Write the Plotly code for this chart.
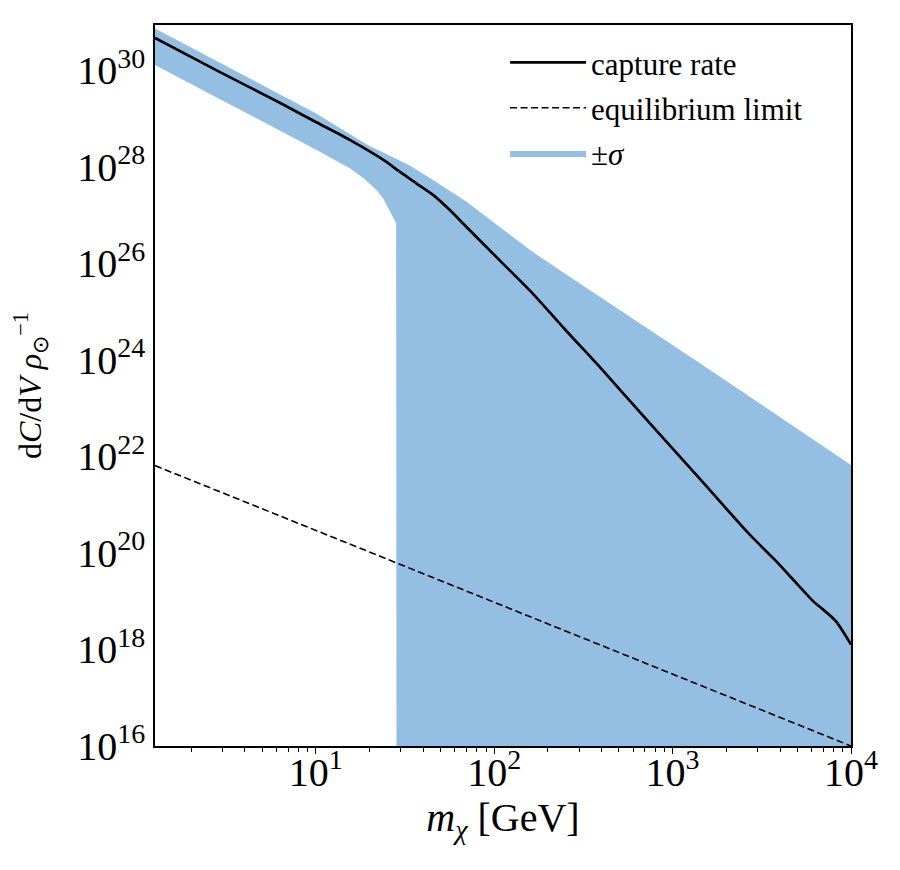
import plotly.graph_objects as go

# ---- data (mass in GeV, rate dC/dV / rho) ----
capture_mass = [1.255, 2.78, 6.64, 10.0, 15.5, 24.5, 29.5, 36.6, 45.4, 56.2, 69.7, 107, 164,
                251, 389, 740, 1410, 2690, 3780, 5010, 6170, 6760, 8200, 10000]
capture_rate = [4.68e30, 1.0e30, 1.91e29, 8.51e28, 3.63e28, 1.32e28, 7.94e27, 4.57e27,
                2.63e27, 1.29e27, 5.75e26, 1.17e26, 2.40e25, 4.17e24, 7.24e23, 5.01e22,
                3.55e21, 2.45e20, 6.92e19, 2.24e19, 9.8e18, 7.4e18, 3.90e18, 1.26e18]

upper_mass = [1.255, 6.64, 10.0, 19.2, 29.5, 33.6, 45.4, 69.7, 107, 164, 251, 389,
              646, 1410, 3310, 10000]
upper_rate = [7.41e30, 2.88e29, 1.29e29, 2.95e28, 1.38e28, 1.07e28, 5.37e27, 1.91e27,
              5.75e26, 1.74e26, 6.03e25, 2.07e25, 5.9e24, 8.7e23, 1.05e23, 6.61e21]

lower_mass = [1.255, 2.78, 10.1, 12.6, 15.5, 18.6, 21.9, 24.0, 25.9, 28.2, 28.4, 10000]
lower_rate = [1.29e30, 2.75e29, 2.24e28, 1.45e28, 9.33e27, 5.75e27, 3.31e27, 2.14e27,
              1.29e27, 6.76e26, 1e10, 1e10]

equil_mass = [1.255, 10, 100, 1000, 10000]
equil_rate = [6.46e21, 2.95e20, 9.55e18, 3.09e17, 1.0e16]

legend_names = ["capture rate", "equilibrium limit", "±<i>σ</i>"]

x_tick_vals = [10, 100, 1000, 10000]
x_tick_text = ["10<sup>1</sup>", "10<sup>2</sup>", "10<sup>3</sup>", "10<sup>4</sup>"]
y_tick_vals = [1e16, 1e18, 1e20, 1e22, 1e24, 1e26, 1e28, 1e30]
y_tick_text = ["10<sup>16</sup>", "10<sup>18</sup>", "10<sup>20</sup>", "10<sup>22</sup>",
               "10<sup>24</sup>", "10<sup>26</sup>", "10<sup>28</sup>", "10<sup>30</sup>"]

BAND = "rgb(148,191,227)"
FONT = "Liberation Serif"

minor_x = [m * 10 ** k for k in range(0, 4) for m in range(2, 10)]

fig = go.Figure()

# band polygon: upper edge left->right, lower edge right->left
band_x = upper_mass + lower_mass[::-1]
band_y = upper_rate + lower_rate[::-1]

fig.add_trace(go.Scatter(
    x=band_x, y=band_y, mode="lines", fill="toself", fillcolor=BAND,
    line=dict(width=0, color=BAND), name=legend_names[2], legendgroup="c", legendrank=3))
fig.add_trace(go.Scatter(
    x=capture_mass, y=capture_rate, mode="lines", name=legend_names[0],
    line=dict(color="black", width=2.7, shape="spline", smoothing=0.7),
    legendgroup="a", legendrank=1))
fig.add_trace(go.Scatter(
    x=equil_mass, y=equil_rate, mode="lines", name=legend_names[1],
    line=dict(color="black", width=1.6, dash="7px,3.5px"), legendgroup="b", legendrank=2))

fig.update_layout(
    width=900, height=870,
    margin=dict(l=155, r=49, t=25, b=124),
    paper_bgcolor="white", plot_bgcolor="white",
    font=dict(family=FONT, color="black", size=28),
    showlegend=True,
    legend=dict(x=0.503, y=0.985, xanchor="left", yanchor="top",
                font=dict(size=31, family=FONT, color="black"), bgcolor="rgba(0,0,0,0)",
                itemwidth=76, tracegroupgap=2),
)

fig.update_xaxes(
    type="log", range=[0.0986, 4.0],
    showline=True, linecolor="black", linewidth=1.5, mirror=True,
    showgrid=False, zeroline=False,
    tickvals=x_tick_vals, ticktext=x_tick_text,
    ticks="outside", ticklen=6, tickwidth=1.2, tickcolor="black",
    tickfont=dict(size=40, family=FONT), ticklabelstandoff=-16,
    minor=dict(tickvals=minor_x, ticks="outside", ticklen=4, tickwidth=1, tickcolor="black"),
    title=dict(text="<i>m</i><sub><i>χ</i></sub> [GeV]", font=dict(size=40, family=FONT), standoff=0),
)
fig.update_yaxes(
    type="log", range=[16, 30.94],
    showline=True, linecolor="black", linewidth=1.5, mirror=True,
    showgrid=False, zeroline=False,
    tickvals=y_tick_vals, ticktext=y_tick_text, ticks="",
    tickfont=dict(size=40, family=FONT),
    title=dict(text="d<i>C</i>/d<i>V</i> <i>ρ</i><sub>⊙</sub><sup>−1</sup>",
               font=dict(size=32, family=FONT), standoff=26),
)

fig.write_html("out.html")
